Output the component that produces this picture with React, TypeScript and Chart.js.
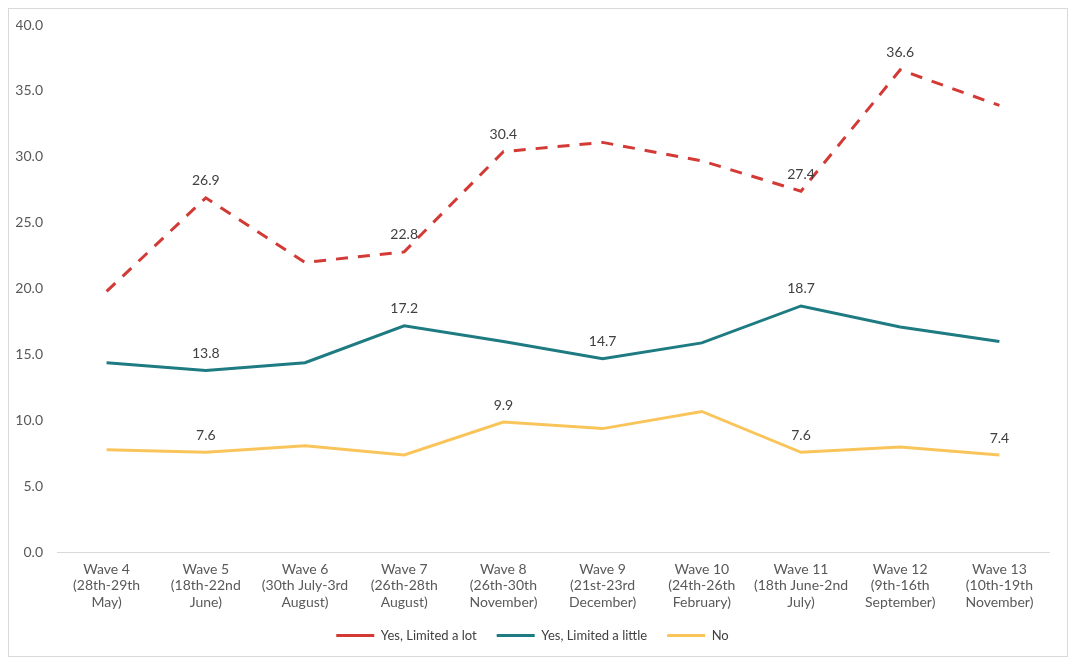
import { useEffect, useRef } from "react";
import { Chart, registerables } from "chart.js";

Chart.register(...registerables);

const waves = [
  ["Wave 4", "(28th-29th", "May)"],
  ["Wave 5", "(18th-22nd", "June)"],
  ["Wave 6", "(30th July-3rd", "August)"],
  ["Wave 7", "(26th-28th", "August)"],
  ["Wave 8", "(26th-30th", "November)"],
  ["Wave 9", "(21st-23rd", "December)"],
  ["Wave 10", "(24th-26th", "February)"],
  ["Wave 11", "(18th June-2nd", "July)"],
  ["Wave 12", "(9th-16th", "September)"],
  ["Wave 13", "(10th-19th", "November)"],
];

const limitedLot = [19.8, 26.9, 22.0, 22.8, 30.4, 31.1, 29.7, 27.4, 36.6, 33.9];
const limitedLittle = [14.4, 13.8, 14.4, 17.2, 16.0, 14.7, 15.9, 18.7, 17.1, 16.0];
const no = [7.8, 7.6, 8.1, 7.4, 9.9, 9.4, 10.7, 7.6, 8.0, 7.4];

// which points carry a value label, per series
const lotLabels = [1, 3, 4, 7, 8];
const littleLabels = [1, 3, 5, 7];
const noLabels = [1, 4, 7, 9];

const FONT = "Lato, 'Open Sans', sans-serif";

const valueLabels = {
  id: "valueLabels",
  afterDatasetsDraw(chart: any) {
    const ctx = chart.ctx;
    const shown = [lotLabels, littleLabels, noLabels];
    ctx.save();
    ctx.font = `14px ${FONT}`;
    ctx.fillStyle = "#404040";
    ctx.textAlign = "center";
    ctx.textBaseline = "bottom";
    chart.data.datasets.forEach((ds: any, i: number) => {
      const meta = chart.getDatasetMeta(i);
      shown[i].forEach((j) => {
        const pt = meta.data[j];
        ctx.fillText(Number(ds.data[j]).toFixed(1), pt.x, pt.y - 10);
      });
    });
    ctx.restore();
  },
};

export default function App() {
  const canvasRef = useRef<HTMLCanvasElement | null>(null);
  useEffect(() => {
    if (!canvasRef.current) return;
    const chart = new Chart(canvasRef.current, {
      type: "line",
      data: {
        labels: waves,
        datasets: [
          {
            label: "Yes, Limited a lot",
            data: limitedLot,
            borderColor: "#D33A35",
            backgroundColor: "#D33A35",
            borderWidth: 3,
            borderDash: [12, 10],
            pointRadius: 0,
            tension: 0,
          },
          {
            label: "Yes, Limited a little",
            data: limitedLittle,
            borderColor: "#1E7B82",
            backgroundColor: "#1E7B82",
            borderWidth: 3,
            pointRadius: 0,
            tension: 0,
          },
          {
            label: "No",
            data: no,
            borderColor: "#F9C55B",
            backgroundColor: "#F9C55B",
            borderWidth: 3,
            pointRadius: 0,
            tension: 0,
          },
        ],
      },
      options: {
        animation: false,
        responsive: true,
        maintainAspectRatio: false,
        layout: { padding: { left: 7, right: 18, top: 0, bottom: 4 } },
        plugins: {
          tooltip: { enabled: false },
          legend: {
            position: "bottom",
            labels: {
              usePointStyle: true,
              pointStyle: "line",
              pointStyleWidth: 38,
              boxWidth: 38,
              padding: 10,
              color: "#404040",
              font: { family: FONT, size: 13 },
              // a bit more room between legend entries than between rows
              generateLabels: (c: any) => {
                const items = Chart.defaults.plugins.legend.labels.generateLabels(c);
                return items.map((it: any, i: number) =>
                  i < items.length - 1 ? { ...it, text: it.text + "   " } : it
                );
              },
            },
          },
        },
        scales: {
          x: {
            offset: true,
            grid: { display: false, drawTicks: false },
            border: { display: true, color: "#D9D9D9", width: 1 },
            ticks: {
              color: "#595959",
              font: { family: FONT, size: 14 },
              maxRotation: 0,
              autoSkip: false,
              padding: 8,
            },
          },
          y: {
            min: 0,
            max: 40,
            grid: { display: false, drawTicks: false },
            border: { display: false },
            afterFit: (scale: any) => {
              scale.width = 41;
              scale.paddingTop = 16;
            },
            ticks: {
              stepSize: 5,
              color: "#595959",
              font: { family: FONT, size: 14 },
              padding: 14,
              callback: (v: any) => Number(v).toFixed(1),
            },
          },
        },
      },
      plugins: [valueLabels],
    });
    return () => chart.destroy();
  }, []);
  return (
    <div
      style={{
        width: 1058,
        height: 647,
        border: "1px solid #D9D9D9",
        background: "#fff",
        position: "relative",
      }}
    >
      <canvas ref={canvasRef} />
    </div>
  );
}
